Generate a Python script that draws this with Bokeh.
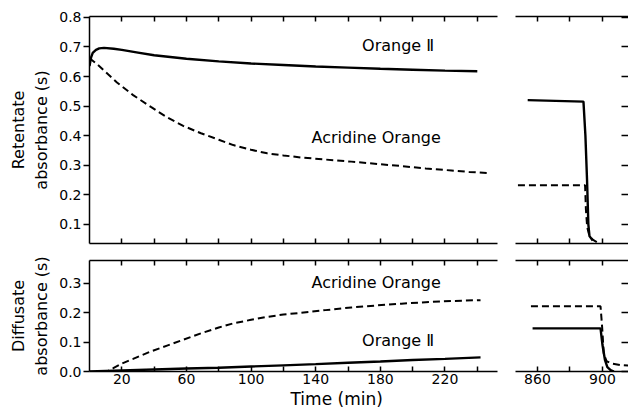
from bokeh.plotting import figure
from bokeh.layouts import column, row
from bokeh.models import (Range1d, LinearAxis, FixedTicker, Label, Title, PrintfTickFormatter)
from bokeh.embed import file_html
from bokeh.resources import INLINE

# ---------------- data ----------------
# Retentate, Orange II (solid)
ret_o2_t = [0, 1, 2, 4, 6, 9, 15, 20, 30, 40, 60, 80, 100, 120, 140, 160, 180, 200, 220, 240]
ret_o2_y = [0.635, 0.665, 0.68, 0.69, 0.695, 0.697, 0.694, 0.69, 0.681, 0.672, 0.660, 0.651,
            0.644, 0.639, 0.634, 0.630, 0.626, 0.623, 0.620, 0.618]
# Retentate, Acridine Orange (dashed)
ret_ao_t = [0, 5, 10, 17, 27, 38, 48, 58, 69, 80, 89, 100, 110, 120, 131, 146, 162, 178, 193,
            208, 224, 235, 247]
ret_ao_y = [0.662, 0.64, 0.615, 0.58, 0.537, 0.497, 0.462, 0.433, 0.408, 0.386, 0.368, 0.352,
            0.34, 0.333, 0.326, 0.319, 0.312, 0.304, 0.297, 0.289, 0.282, 0.277, 0.273]
# Diffusate, Acridine Orange (dashed)
dif_ao_t = [8, 11, 15, 20, 27, 37, 48, 58, 69, 80, 89, 100, 110, 120, 131, 146, 162, 178, 193,
            208, 224, 242]
dif_ao_y = [0.0, 0.0, 0.012, 0.027, 0.043, 0.066, 0.088, 0.108, 0.13, 0.15, 0.164, 0.176, 0.186,
            0.194, 0.2, 0.209, 0.218, 0.225, 0.231, 0.236, 0.24, 0.243]
# Diffusate, Orange II (solid)
dif_o2_t = [0, 10, 20, 40, 60, 80, 100, 120, 140, 160, 180, 200, 220, 242]
dif_o2_y = [0.0, 0.002, 0.004, 0.007, 0.01, 0.013, 0.017, 0.021, 0.025, 0.03, 0.034, 0.039,
            0.043, 0.048]

# late-time (broken axis) segments
ret_o2_late_t = [854, 888.3, 889.5, 890.5, 891.3, 892, 894]
ret_o2_late_y = [0.52, 0.515, 0.4, 0.25, 0.1, 0.06, 0.045]
ret_ao_late_t = [848, 889.3, 889.8, 890.6, 892, 894, 896.5]
ret_ao_late_y = [0.232, 0.232, 0.15, 0.09, 0.06, 0.048, 0.04]
dif_ao_late_t = [856, 898.8, 899.8, 900.8, 902.5, 906, 911, 916]
dif_ao_late_y = [0.222, 0.222, 0.15, 0.06, 0.035, 0.027, 0.022, 0.02]
dif_o2_late_t = [857, 898.8, 900, 901.5, 903, 905, 907]
dif_o2_late_y = [0.147, 0.147, 0.09, 0.04, 0.015, 0.005, 0.0]

# ticks
x_ticks_left = [20, 40, 60, 80, 100, 120, 140, 160, 180, 200, 220, 240]
x_labels_left = [20, 60, 100, 140, 180, 220]
x_ticks_right = [860, 880, 900]
x_labels_right = [860, 900]
y_ticks_top = [0.1, 0.2, 0.3, 0.4, 0.5, 0.6, 0.7, 0.8]
y_ticks_bot = [0.0, 0.1, 0.2, 0.3]

FONT = "DejaVu Sans"
LW_AX = 1.5
SOLID_W = 2.4
DASH_W = 2.0
DASH = "7 4"


def base(width, height, xr, yr, left, right, top, bottom, yloc):
    p = figure(width=width, height=height, x_range=xr, y_range=yr,
               output_backend="svg", toolbar_location=None,
               min_border_left=left, min_border_right=right,
               min_border_top=top, min_border_bottom=bottom,
               y_axis_location=yloc)
    p.outline_line_color = None
    p.xgrid.visible = False
    p.ygrid.visible = False
    p.background_fill_color = "white"
    p.border_fill_color = "white"
    return p


def style_x(ax, ticks, labels):
    ax.ticker = FixedTicker(ticks=list(labels), minor_ticks=[t for t in ticks if t not in labels])
    ax.axis_line_width = LW_AX
    ax.axis_line_color = "black"
    ax.major_tick_in = 5
    ax.major_tick_out = 0
    ax.minor_tick_in = 5
    ax.minor_tick_out = 0
    ax.major_tick_line_width = LW_AX
    ax.minor_tick_line_width = LW_AX
    ax.major_tick_line_color = "black"
    ax.minor_tick_line_color = "black"
    ax.major_label_text_font = FONT
    ax.major_label_text_font_size = "14px"
    ax.major_label_text_color = "black"
    ax.major_label_standoff = 2


def add_top(p, ticks):
    ax = LinearAxis()
    style_x(ax, ticks, [])
    p.add_layout(ax, "above")


def style_y_left(ax, ticks, label):
    ax.ticker = FixedTicker(ticks=ticks)
    ax.formatter = PrintfTickFormatter(format="%.1f")
    ax.axis_line_width = LW_AX
    ax.axis_line_color = "black"
    ax.major_tick_in = 0
    ax.major_tick_out = 6
    ax.minor_tick_in = 0
    ax.minor_tick_out = 0
    ax.major_tick_line_width = LW_AX
    ax.major_tick_line_color = "black"
    ax.major_label_text_font = FONT
    ax.major_label_text_font_size = "14px"
    ax.major_label_text_color = "black"
    ax.major_label_standoff = 2
    ax.axis_label = label
    ax.axis_label_text_font = FONT
    ax.axis_label_text_font_size = "16px"
    ax.axis_label_text_font_style = "normal"
    ax.axis_label_text_color = "black"
    ax.axis_label_standoff = 5


def style_y_right(ax, ticks):
    # ticks only, pointing into the panel, no labels
    ax.ticker = FixedTicker(ticks=[], minor_ticks=ticks)
    ax.axis_line_color = None
    ax.major_tick_in = 0
    ax.major_tick_out = 0
    ax.minor_tick_in = 7
    ax.minor_tick_out = 0
    ax.minor_tick_line_width = LW_AX
    ax.minor_tick_line_color = "black"
    ax.major_label_standoff = 0


xr_left = Range1d(0, 252.5)
xr_right = Range1d(846.5, 916)
yr_top = Range1d(0.035, 0.803)
yr_bot = Range1d(0.0, 0.378)

W_LEFT = 506
W_RIGHT = 122
H_TOP = 251
H_BOT = 161

# top-left
tl = base(W_LEFT, H_TOP, xr_left, yr_top, 89, 9, 16, 8, "left")
tl.line(ret_o2_t, ret_o2_y, line_color="black", line_width=SOLID_W)
tl.line(ret_ao_t, ret_ao_y, line_color="black", line_width=DASH_W, line_dash=DASH)
style_x(tl.xaxis[0], x_ticks_left, [])
add_top(tl, x_ticks_left)
style_y_left(tl.yaxis[0], y_ticks_top, "Retentate\nabsorbance (s)")
tl.add_layout(Label(x=191, y=0.705, text="Orange Ⅱ", text_align="center", text_baseline="middle",
                    text_font=FONT, text_font_size="16px", text_color="black"))
tl.add_layout(Label(x=179, y=0.395, text="Acridine  Orange", text_align="center",
                    text_baseline="middle", text_font=FONT, text_font_size="16px",
                    text_color="black"))

# top-right
tr = base(W_RIGHT, H_TOP, xr_right, yr_top, 9, 0, 16, 8, "right")
tr.line(ret_o2_late_t, ret_o2_late_y, line_color="black", line_width=SOLID_W)
tr.line(ret_ao_late_t, ret_ao_late_y, line_color="black", line_width=DASH_W, line_dash=DASH)
style_x(tr.xaxis[0], x_ticks_right, [])
add_top(tr, x_ticks_right)
style_y_right(tr.yaxis[0], y_ticks_top)

# bottom-left
bl = base(W_LEFT, H_BOT, xr_left, yr_bot, 89, 9, 9, 41, "left")
bl.line(dif_ao_t, dif_ao_y, line_color="black", line_width=DASH_W, line_dash=DASH)
bl.line(dif_o2_t, dif_o2_y, line_color="black", line_width=SOLID_W)
style_x(bl.xaxis[0], x_ticks_left, x_labels_left)
add_top(bl, x_ticks_left)
style_y_left(bl.yaxis[0], y_ticks_bot, "Diffusate\nabsorbance (s)")
bl.add_layout(Label(x=179, y=0.304, text="Acridine  Orange", text_align="center",
                    text_baseline="middle", text_font=FONT, text_font_size="16px",
                    text_color="black"))
bl.add_layout(Label(x=191, y=0.106, text="Orange Ⅱ", text_align="center", text_baseline="middle",
                    text_font=FONT, text_font_size="16px", text_color="black"))
bl.add_layout(Title(text="Time (min)", align="left", offset=201, standoff=0,
                    text_font=FONT, text_font_size="17px", text_font_style="normal",
                    text_color="black"), "below")

# bottom-right
br = base(W_RIGHT, H_BOT, xr_right, yr_bot, 9, 0, 9, 41, "right")
br.line(dif_ao_late_t, dif_ao_late_y, line_color="black", line_width=DASH_W, line_dash=DASH)
br.line(dif_o2_late_t, dif_o2_late_y, line_color="black", line_width=SOLID_W)
style_x(br.xaxis[0], x_ticks_right, x_labels_right)
add_top(br, x_ticks_right)
style_y_right(br.yaxis[0], y_ticks_bot)

layout = column(row(tl, tr), row(bl, br))

open("out.html", "w").write(file_html(layout, INLINE))
